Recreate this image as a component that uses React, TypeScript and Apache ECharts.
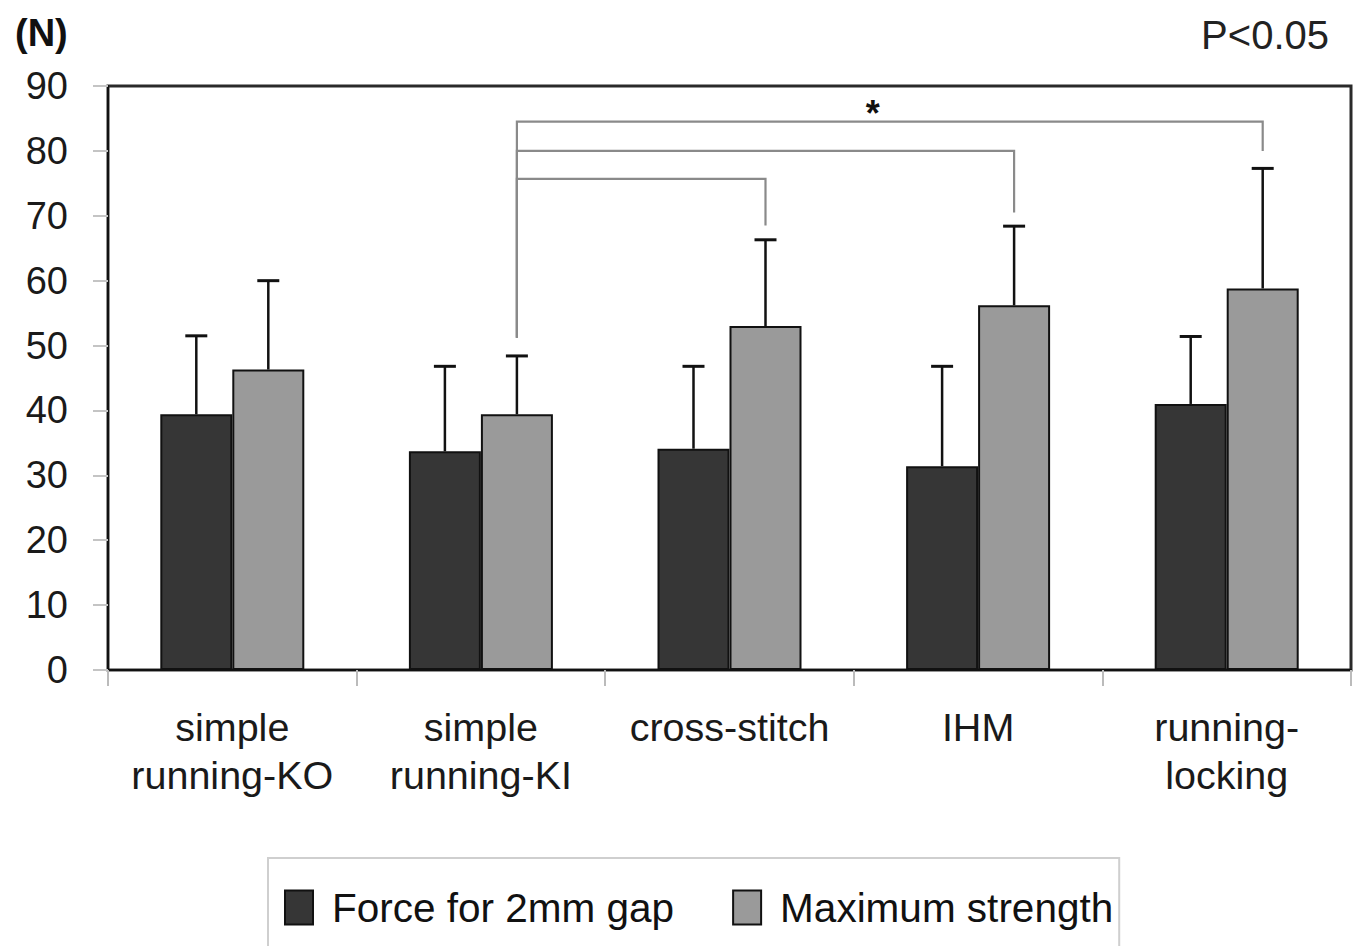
import React, { useEffect, useRef } from "react";
import * as echarts from "echarts";

const categories = ["simple\nrunning-KO", "simple\nrunning-KI", "cross-stitch", "IHM", "running-\nlocking"];
const seriesNames = ["Force for 2mm gap", "Maximum strength"];
const gapForce = [39.4, 33.7, 34.1, 31.4, 41.0];
const gapForceUpper = [51.5, 46.8, 46.8, 46.8, 51.4];
const maxStrength = [46.3, 39.4, 53.0, 56.2, 58.8];
const maxStrengthUpper = [60.0, 48.4, 66.3, 68.4, 77.3];
// significance brackets: [fromCategory, toCategory, level, dropEnd, baseOfLeftLeg]
const brackets = [
  [1, 2, 75.7, 68.5, 51.2],
  [1, 3, 80.0, 70.5, 51.2],
  [1, 4, 84.5, 80.0, 51.2],
];
const starLabel = "*";
const pLabel = "P<0.05";
const unitLabel = "(N)";

const FONT = "'Liberation Sans', Arial, Helvetica, sans-serif";
const BAR_W = 72;

export default function App() {
  const ref = useRef<HTMLDivElement>(null);
  useEffect(() => {
    if (!ref.current) return;
    const chart = echarts.init(ref.current, undefined, { renderer: "svg" });

    const errorSeries = (vals: number[], upper: number[], offset: number) => ({
      type: "custom",
      silent: true,
      z: 5,
      data: vals.map((v, i) => [i, v, upper[i]]),
      renderItem: (_p: any, api: any) => {
        const b = api.coord([api.value(0), api.value(1)]);
        const t = api.coord([api.value(0), api.value(2)]);
        const x = b[0] + offset;
        const st = { stroke: "#111", lineWidth: 2.5 };
        return {
          type: "group",
          children: [
            { type: "line", shape: { x1: x, y1: b[1], x2: x, y2: t[1] }, style: st },
            { type: "line", shape: { x1: x - 11, y1: t[1], x2: x + 11, y2: t[1] }, style: { stroke: "#111", lineWidth: 3 } },
          ],
        };
      },
    });

    chart.setOption({
      animation: false,
      backgroundColor: "#fff",
      textStyle: { fontFamily: FONT },
      title: [
        { text: unitLabel, left: 10, top: 9, textStyle: { fontFamily: FONT, fontSize: 38, fontWeight: "bold", color: "#111" } },
        { text: pLabel, right: 26, top: 10, textStyle: { fontFamily: FONT, fontSize: 40, fontWeight: "normal", color: "#222" } },
      ],
      grid: { left: 108, right: 9, top: 86, bottom: 276, show: true, borderColor: "#2a2a2a", borderWidth: 3, containLabel: false },
      legend: {
        left: 268,
        top: 858,
        orient: "horizontal",
        data: seriesNames,
        icon: "rect",
        itemWidth: 28,
        itemHeight: 34,
        itemGap: 58,
        borderColor: "#cfcfcf",
        borderWidth: 2,
        padding: [29, 6, 22, 16],
        selectedMode: false,
        textStyle: { fontFamily: FONT, fontSize: 40.5, color: "#111", padding: [0, 0, 0, 14] },
      },
      xAxis: {
        type: "category",
        data: categories,
        axisLine: { lineStyle: { color: "#111", width: 2 } },
        axisTick: { show: true, length: 16, lineStyle: { color: "#bbb", width: 2 } },
        axisLabel: { fontFamily: FONT, fontSize: 39.5, lineHeight: 48, color: "#1a1a1a", margin: 33, interval: 0 },
      },
      yAxis: {
        type: "value",
        min: 0,
        max: 90,
        interval: 10,
        splitLine: { show: false },
        axisLine: { show: true, lineStyle: { color: "#111", width: 2 } },
        axisTick: { show: true, length: 15, lineStyle: { color: "#c4c4c4", width: 2 } },
        axisLabel: { fontFamily: FONT, fontSize: 38, color: "#1a1a1a", margin: 40 },
      },
      series: [
        {
          name: seriesNames[0],
          type: "bar",
          data: gapForce,
          barWidth: BAR_W,
          barGap: "0%",
          itemStyle: { color: "#363636", borderColor: "#111", borderWidth: 2 },
        },
        {
          name: seriesNames[1],
          type: "bar",
          data: maxStrength,
          barWidth: BAR_W,
          barGap: "0%",
          itemStyle: { color: "#9a9a9a", borderColor: "#111", borderWidth: 2 },
        },
        errorSeries(gapForce, gapForceUpper, -BAR_W / 2),
        errorSeries(maxStrength, maxStrengthUpper, BAR_W / 2),
        {
          type: "custom",
          silent: true,
          z: 4,
          data: brackets,
          renderItem: (p: any, api: any) => {
            const level = api.value(2);
            const a = api.coord([api.value(0), level]);
            const c = api.coord([api.value(1), level]);
            const d = api.coord([api.value(1), api.value(3)]);
            const base = api.coord([api.value(0), api.value(4)]);
            const x1 = a[0] + BAR_W / 2;
            const x2 = c[0] + BAR_W / 2;
            const children: any[] = [
              {
                type: "polyline",
                shape: { points: [[x1, base[1]], [x1, a[1]], [x2, a[1]], [x2, d[1]]] },
                style: { stroke: "#8a8a8a", lineWidth: 2.2, fill: null },
              },
            ];
            if (p.dataIndex === brackets.length - 1) {
              children.push({
                type: "text",
                x: (x1 + x2) / 2 - 17,
                y: a[1] - 8,
                style: { text: starLabel, fontFamily: FONT, fontSize: 36, fontWeight: "bold", fill: "#111", align: "center", verticalAlign: "middle" },
              });
            }
            return { type: "group", children };
          },
        },
      ],
    });
    return () => chart.dispose();
  }, []);
  return <div ref={ref} style={{ width: 1360, height: 946, position: "absolute", left: 0, top: 0 }} />;
}
